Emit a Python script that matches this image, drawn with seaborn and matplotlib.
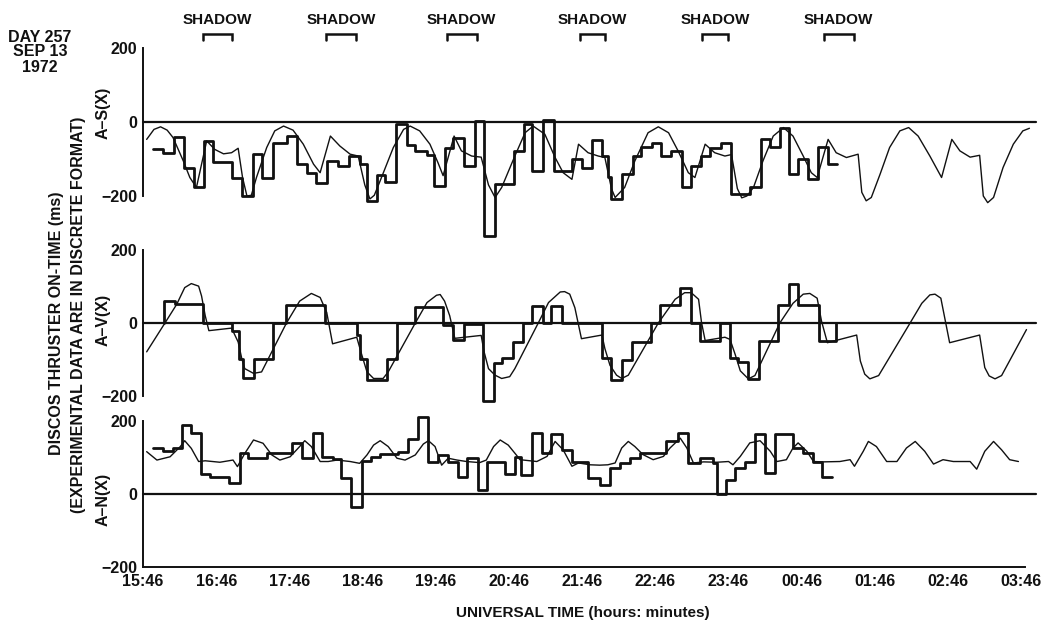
import matplotlib
matplotlib.use("Agg")
import matplotlib.pyplot as plt
import seaborn as sns

# ---------------- data ----------------
hour_ticks = list(range(13))
tick_labels = ["15:46", "16:46", "17:46", "18:46", "19:46", "20:46", "21:46",
               "22:46", "23:46", "00:46", "01:46", "02:46", "03:46"]
panel_names = ["A\u2013S(X)", "A\u2013V(X)", "A\u2013N(X)"]
y_ticks = [-200, 0, 200]
y_tick_labels = ["\u2212200", "0", "200"]
shadow_start = [0.82, 2.50, 4.15, 5.97, 7.64, 9.30]
shadow_end = [1.22, 2.91, 4.56, 6.31, 7.99, 9.71]

# A-S(X) simulation (thin)
as_sim_t = [0.05, 0.15, 0.24, 0.33, 0.41, 0.55, 0.64, 0.73, 0.87, 0.98, 1.10, 1.21, 1.30,
            1.36, 1.42, 1.48, 1.55, 1.69, 1.80, 1.92, 2.05, 2.19, 2.33, 2.42, 2.56, 2.69,
            2.83, 2.94, 3.03, 3.10, 3.16, 3.24, 3.42, 3.56, 3.65, 3.78, 3.92, 4.03, 4.10,
            4.25, 4.35, 4.49, 4.62, 4.72, 4.81, 4.90, 5.08, 5.22, 5.33, 5.49, 5.63, 5.74,
            5.86, 5.95, 6.08, 6.22, 6.31, 6.40, 6.45, 6.58, 6.72, 6.90, 7.04, 7.18, 7.31,
            7.45, 7.54, 7.68, 7.81, 7.95, 8.04, 8.12, 8.18, 8.25, 8.34, 8.47, 8.61, 8.75,
            8.88, 9.02, 9.13, 9.21, 9.36, 9.47, 9.61, 9.77, 9.82, 9.88, 9.95, 10.07, 10.20,
            10.34, 10.46, 10.59, 10.75, 10.91, 11.05, 11.16, 11.30, 11.43, 11.48, 11.54,
            11.62, 11.75, 11.89, 12.02, 12.11]
as_sim_v = [-47, -20, -13, -22, -42, -105, -150, -177, -51, -74, -86, -83, -71,
            -150, -200, -198, -150, -69, -24, -11, -22, -60, -114, -137, -38, -65,
            -87, -92, -170, -208, -198, -159, -69, -20, -11, -24, -60, -110, -145,
            -38, -78, -92, -95, -170, -204, -177, -92, -29, -11, -33, -96, -137,
            -155, -60, -83, -92, -96, -180, -204, -177, -105, -29, -13, -29, -78,
            -137, -150, -60, -83, -92, -88, -180, -205, -200, -177, -105, -38, -15,
            -38, -92, -137, -150, -47, -83, -96, -87, -190, -213, -204, -141, -69,
            -24, -15, -38, -92, -150, -47, -78, -95, -90, -200, -218,
            -204, -123, -60, -24, -17]

# A-S(X) experiment (thick, discrete steps; last value repeated at end time)
as_exp_t = [0.14, 0.28, 0.42, 0.56, 0.69, 0.84, 0.96, 1.21, 1.35, 1.50, 1.63, 1.78, 1.97,
            2.10, 2.24, 2.37, 2.52, 2.67, 2.81, 2.96, 3.06, 3.20, 3.31, 3.46, 3.60, 3.72,
            3.88, 3.97, 4.13, 4.24, 4.39, 4.53, 4.66, 4.81, 5.07, 5.20, 5.32, 5.46, 5.61,
            5.86, 6.00, 6.13, 6.27, 6.35, 6.40, 6.54, 6.70, 6.81, 6.95, 7.08, 7.22, 7.36,
            7.49, 7.63, 7.74, 7.90, 8.03, 8.29, 8.44, 8.56, 8.70, 8.82, 8.95, 9.09, 9.22,
            9.36, 9.48]
as_exp_v = [-74, -85, -40, -123, -177, -51, -107, -150, -200, -87, -150, -56, -38,
            -113, -137, -164, -105, -119, -92, -114, -213, -144, -161, -6, -62, -78,
            -90, -173, -69, -44, -119, 3, -308, -168, -78, -6, -132, 6, -132,
            -101, -123, -49, -92, -148, -207, -141, -92, -67, -56, -92, -78, -177,
            -119, -92, -71, -58, -195, -177, -47, -67, -15, -140, -101, -155, -67,
            -113, -113]

# A-V(X) simulation (thin)
av_sim_t = [0.05, 0.30, 0.46, 0.57, 0.66, 0.76, 0.80, 0.85, 0.90, 1.21, 1.30, 1.35, 1.39,
            1.51, 1.62, 1.96, 2.14, 2.30, 2.42, 2.51, 2.59, 2.92, 2.99, 3.06, 3.15, 3.28,
            3.35, 3.72, 3.88, 4.01, 4.06, 4.12, 4.19, 4.26, 4.62, 4.66, 4.72, 4.81, 4.90,
            5.01, 5.08, 5.40, 5.54, 5.70, 5.76, 5.83, 5.90, 5.99, 6.27, 6.31, 6.38, 6.47,
            6.54, 6.63, 7.04, 7.27, 7.40, 7.49, 7.59, 7.63, 7.68, 7.95, 8.02, 8.09, 8.16,
            8.27, 8.36, 8.70, 8.88, 9.02, 9.11, 9.21, 9.27, 9.35, 9.75, 9.80, 9.86, 9.93,
            10.05, 10.48, 10.64, 10.75, 10.82, 10.90, 11.02, 11.43, 11.50, 11.56, 11.64,
            11.73, 12.07]
av_sim_v = [-79, 0, 51, 97, 108, 101, 74, 20, -21, -14, -52, -98, -125,
            -138, -134, 0, 60, 81, 70, 29, -57, -39, -88, -134, -152, -152,
            -134, 0, 56, 76, 78, 60, 20, -42, -34, -79, -125, -143, -152,
            -147, -125, 0, 56, 85, 86, 79, 42, -43, -33, -70, -116, -143,
            -152, -143, 0, 65, 83, 83, 65, 2, -48, -39, -45, -86, -131,
            -153, -144, 0, 54, 79, 81, 68, 5, -54, -33, -104, -140, -153,
            -144, 0, 54, 77, 79, 68, -54, -33, -122, -145, -153,
            -144, -18]

# A-V(X) experiment (thick)
av_exp_t = [0.29, 0.29, 0.44, 0.82, 1.21, 1.31, 1.36, 1.51, 1.78, 1.96, 2.49, 2.92, 2.96,
            3.06, 3.33, 3.47, 3.72, 4.10, 4.24, 4.39, 4.65, 4.80, 4.90, 5.06, 5.19, 5.32,
            5.46, 5.58, 5.72, 6.27, 6.40, 6.54, 6.68, 6.94, 7.06, 7.34, 7.49, 7.61, 7.88,
            8.02, 8.13, 8.27, 8.42, 8.68, 8.82, 8.95, 9.23, 9.47, 9.47]
av_exp_v = [0, 59, 51, 0, -21, -98, -152, -98, 0, 49, 0, -34, -98,
            -156, -98, 0, 45, -6, -47, -4, -214, -110, -97, -53, 0, 46,
            0, 46, 0, -97, -155, -101, -51, 0, 48, 95, 0, -49, 0,
            -95, -106, -154, -48, 48, 106, 50, -48, 0, 0]

# A-N(X) simulation (thin)
an_sim_t = [0.05, 0.19, 0.37, 0.51, 0.57, 0.66, 0.76, 0.85, 1.05, 1.23, 1.29, 1.39, 1.51,
            1.64, 1.76, 1.87, 2.01, 2.14, 2.21, 2.30, 2.42, 2.53, 2.65, 2.83, 2.96, 3.06,
            3.15, 3.24, 3.35, 3.47, 3.58, 3.72, 3.83, 3.90, 3.99, 4.08, 4.17, 4.29, 4.42,
            4.60, 4.69, 4.79, 4.88, 4.99, 5.10, 5.15, 5.38, 5.52, 5.63, 5.74, 5.86, 5.95,
            6.11, 6.24, 6.35, 6.45, 6.54, 6.63, 6.72, 6.83, 6.97, 7.11, 7.20, 7.34, 7.43,
            7.52, 7.66, 7.84, 8.00, 8.06, 8.16, 8.29, 8.43, 8.57, 8.66, 8.79, 8.88, 8.95,
            9.07, 9.16, 9.29, 9.52, 9.66, 9.72, 9.84, 9.91, 10.02, 10.16, 10.30, 10.43,
            10.55, 10.68, 10.80, 10.93, 11.07, 11.30, 11.39, 11.50, 11.62, 11.73, 11.84,
            11.96]
an_sim_v = [116, 93, 102, 130, 146, 125, 89, 91, 87, 93, 75, 111, 148,
            139, 107, 93, 102, 130, 146, 130, 89, 89, 93, 89, 84, 107,
            134, 146, 130, 98, 93, 107, 137, 146, 130, 79, 98, 93, 89,
            86, 93, 130, 148, 134, 107, 94, 89, 103, 144, 121, 76, 85,
            80, 79, 80, 85, 126, 144, 130, 108, 94, 103, 126, 153, 126,
            85, 88, 87, 89, 80, 103, 140, 146, 117, 89, 94, 126, 140,
            117, 89, 88, 89, 94, 76, 117, 144, 130, 89, 89, 126,
            144, 117, 82, 94, 89, 89, 68, 117, 144, 121, 94,
            89]

# A-N(X) experiment (thick)
an_exp_t = [0.13, 0.28, 0.41, 0.53, 0.66, 0.79, 0.92, 1.18, 1.33, 1.44, 1.69, 2.03, 2.17,
            2.32, 2.44, 2.59, 2.71, 2.84, 2.99, 3.12, 3.24, 3.49, 3.62, 3.76, 3.90, 4.03,
            4.17, 4.31, 4.42, 4.57, 4.70, 4.95, 5.08, 5.17, 5.31, 5.45, 5.58, 5.72, 5.86,
            6.08, 6.24, 6.38, 6.52, 6.65, 6.79, 7.15, 7.31, 7.45, 7.61, 7.79, 7.84, 7.97,
            8.09, 8.22, 8.36, 8.50, 8.63, 8.88, 9.02, 9.16, 9.28, 9.41]
an_exp_v = [125, 119, 125, 189, 168, 55, 46, 31, 111, 98, 111, 139, 100,
            166, 102, 95, 43, -35, 91, 102, 110, 116, 150, 212, 89, 107,
            89, 47, 98, 11, 89, 55, 102, 51, 167, 112, 164, 121, 89,
            44, 26, 71, 85, 99, 112, 144, 167, 85, 100, 85, 0, 39,
            71, 89, 164, 58, 164, 126, 112, 89, 46, 46]

# ---------------- figure ----------------
sns.set_style("white")
plt.rcParams["font.family"] = ["Liberation Sans", "DejaVu Sans"]
plt.rcParams["font.weight"] = "bold"

W, H = 1049, 624
fig = plt.figure(figsize=(W / 100, H / 100), dpi=100)
fig.patch.set_facecolor("white")

INK = "#111111"
FS = 11.5
x_left, x_right = 143, 1036
panel_px = [(48, 196), (250, 396), (421, 567)]
label_y = [113, 320, 499]
series = [(as_sim_t, as_sim_v, as_exp_t, as_exp_v),
          (av_sim_t, av_sim_v, av_exp_t, av_exp_v),
          (an_sim_t, an_sim_v, an_exp_t, an_exp_v)]

axes = []
for i, ((top, bot), (st, sv, et, ev)) in enumerate(zip(panel_px, series)):
    ax = fig.add_axes([x_left / W, 1 - bot / H, (x_right - x_left) / W, (bot - top) / H])
    ax.set_facecolor("none")
    ax.set_xlim(0, 12.2)
    ax.set_ylim(-200, 200)
    ax.axhline(0, color=INK, lw=1.6, zorder=1)
    sns.lineplot(x=st, y=sv, ax=ax, sort=False, estimator=None, color=INK, lw=1.0)
    sns.lineplot(x=et, y=ev, ax=ax, sort=False, estimator=None, color=INK, lw=2.0,
                 drawstyle="steps-post")
    for ln in ax.lines:
        ln.set_clip_on(False)
    for s in ("top", "right"):
        ax.spines[s].set_visible(False)
    ax.spines["left"].set_linewidth(1.4)
    ax.spines["left"].set_color(INK)
    ax.set_yticks(y_ticks)
    ax.set_yticklabels(y_tick_labels, fontsize=FS, fontweight="bold", color=INK)
    ax.tick_params(axis="y", direction="in", length=8, width=1.4, pad=4, colors=INK)
    ax.set_xlabel("")
    ax.set_ylabel("")
    if i < 2:
        ax.spines["bottom"].set_visible(False)
        ax.set_xticks([])
    else:
        ax.spines["bottom"].set_linewidth(1.4)
        ax.spines["bottom"].set_color(INK)
        ax.spines["bottom"].set_bounds(0, 12.05)
        ax.set_xticks(hour_ticks)
        ax.set_xticklabels(tick_labels, fontsize=FS, fontweight="bold", color=INK)
        ax.tick_params(axis="x", direction="in", length=7, width=1.2, pad=5, colors=INK)
    fig.text(103 / W, 1 - label_y[i] / H, panel_names[i], rotation=90, ha="center",
             va="center", fontsize=FS, fontweight="bold", color=INK)
    axes.append(ax)

# shadow brackets above the top panel
ax1 = axes[0]
tr = ax1.get_xaxis_transform()
for s0, s1 in zip(shadow_start, shadow_end):
    ax1.plot([s0, s0, s1, s1], [1.054, 1.095, 1.095, 1.054], transform=tr, color=INK,
             lw=1.8, clip_on=False, solid_joinstyle="miter")
    ax1.text((s0 + s1) / 2, 1.19, "SHADOW", transform=tr, ha="center", va="center",
             fontsize=11, fontweight="bold", color=INK, clip_on=False)

# date block
for txt, yy in zip(["DAY 257", "SEP 13", "1972"], [37, 52, 67]):
    fig.text(40 / W, 1 - yy / H, txt, ha="center", va="center", fontsize=11.5,
             fontweight="bold", color=INK)

# overall y label (two lines)
fig.text(57 / W, 1 - 323 / H, "DISCOS THRUSTER ON-TIME (ms)", rotation=90, ha="center",
         va="center", fontsize=FS, fontweight="bold", color=INK)
fig.text(79 / W, 1 - 315 / H, "(EXPERIMENTAL DATA ARE IN DISCRETE FORMAT)", rotation=90,
         ha="center", va="center", fontsize=FS, fontweight="bold", color=INK)

# x label
fig.text(583 / W, 1 - 613 / H, "UNIVERSAL TIME (hours: minutes)", ha="center",
         va="center", fontsize=11, fontweight="bold", color=INK)

fig.savefig("out.png", dpi=100, facecolor="white")
